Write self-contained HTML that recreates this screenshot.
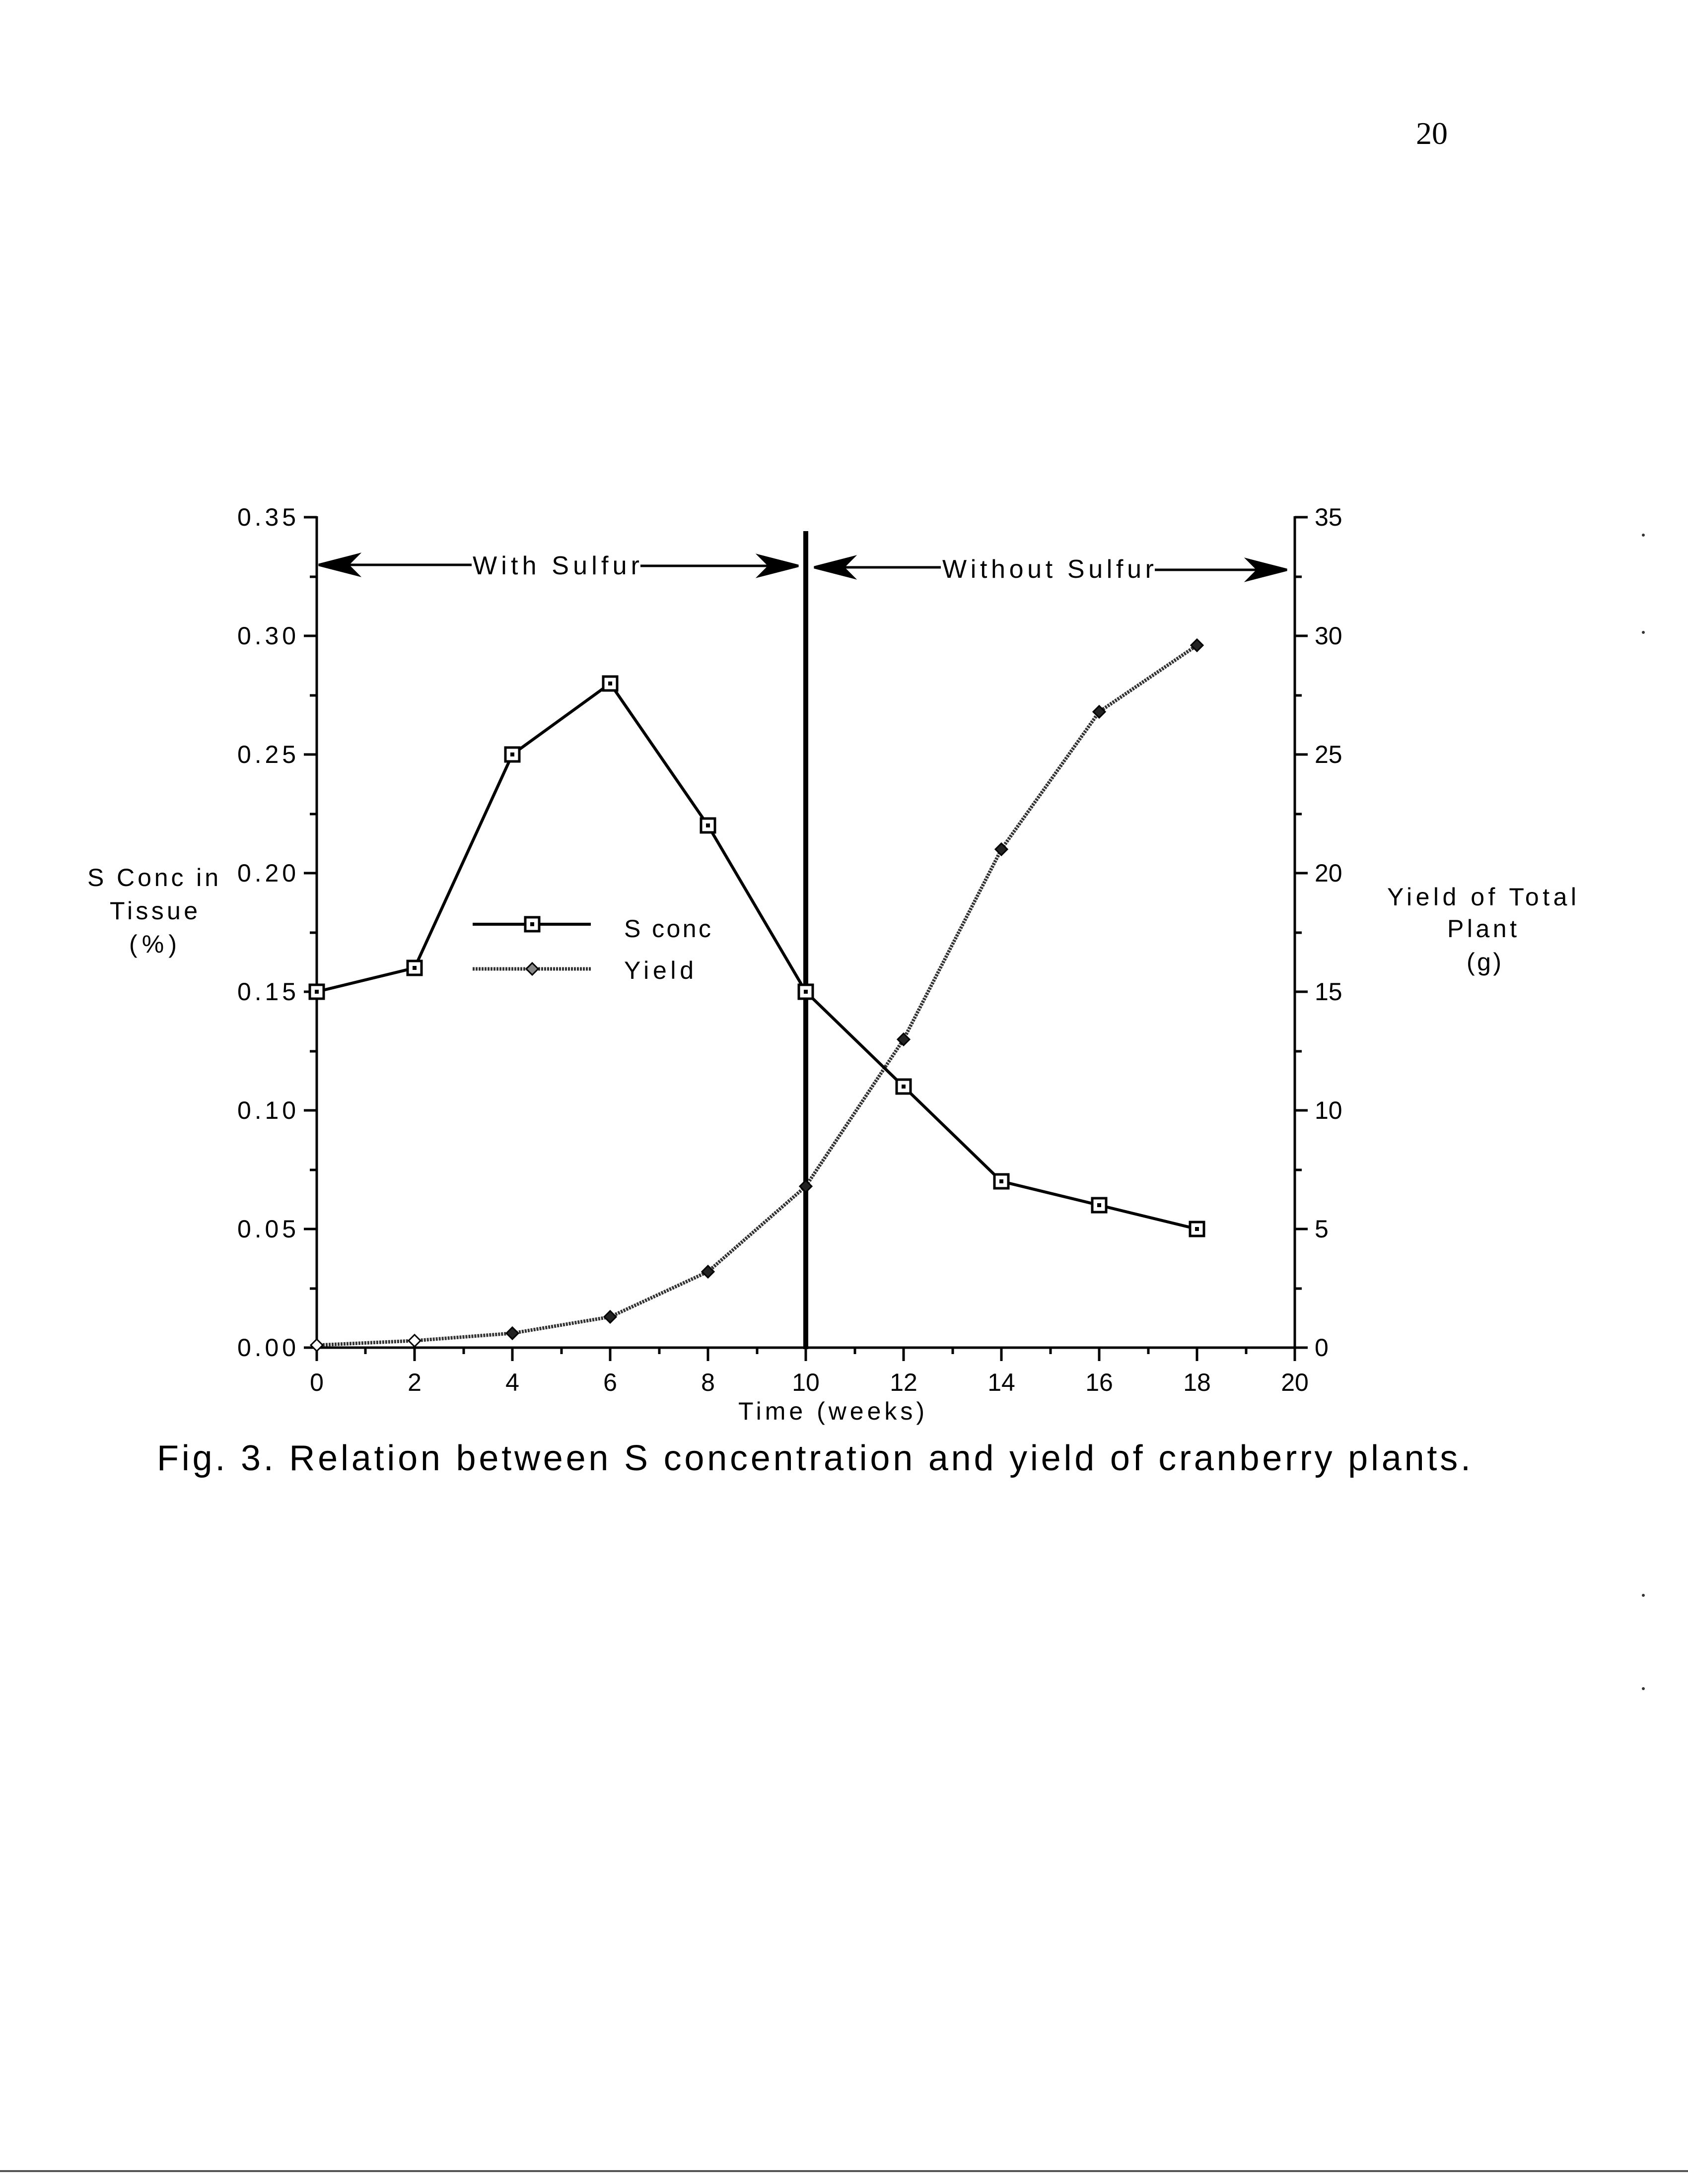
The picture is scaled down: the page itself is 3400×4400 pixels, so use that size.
<!DOCTYPE html>
<html><head><style>
html,body{margin:0;padding:0;background:#fff;}
svg{display:block;}
text{font-family:"Liberation Sans",sans-serif;fill:#000;}
</style></head><body>
<svg width="3400" height="4400" viewBox="0 0 3400 4400" xmlns="http://www.w3.org/2000/svg">
<rect width="3400" height="4400" fill="#fff"/>
<text x="2884" y="290" font-size="64" style="font-family:'Liberation Serif',serif" text-anchor="middle">20</text>

<g stroke="#000" stroke-width="5" fill="none">
<line x1="638" y1="1040" x2="638" y2="2718"/>
<line x1="2608" y1="1040" x2="2608" y2="2718"/>
<line x1="636" y1="2715" x2="2610" y2="2715"/>
<path d="M612 2715H638M612 2476H638M612 2237H638M612 1998H638M612 1759H638M612 1520H638M612 1281H638M612 1042H638"/>
<path d="M624 2596H638M624 2357H638M624 2118H638M624 1879H638M624 1640H638M624 1401H638M624 1162H638"/>
<path d="M2608 2715H2634M2608 2476H2634M2608 2237H2634M2608 1998H2634M2608 1759H2634M2608 1520H2634M2608 1281H2634M2608 1042H2634"/>
<path d="M2608 2596H2622M2608 2357H2622M2608 2118H2622M2608 1879H2622M2608 1640H2622M2608 1401H2622M2608 1162H2622"/>
<path d="M638 2715V2742M835 2715V2742M1032 2715V2742M1229 2715V2742M1426 2715V2742M1623 2715V2742M1820 2715V2742M2017 2715V2742M2214 2715V2742M2411 2715V2742M2608 2715V2742"/>
<path d="M736 2715V2728M934 2715V2728M1131 2715V2728M1328 2715V2728M1525 2715V2728M1722 2715V2728M1919 2715V2728M2116 2715V2728M2313 2715V2728M2510 2715V2728"/>
</g>

<g font-size="50" text-anchor="end">
<text x="596" y="2732" textLength="118">0.00</text><text x="596" y="2493" textLength="118">0.05</text><text x="596" y="2254" textLength="118">0.10</text>
<text x="596" y="2015" textLength="118">0.15</text><text x="596" y="1776" textLength="118">0.20</text><text x="596" y="1537" textLength="118">0.25</text>
<text x="596" y="1298" textLength="118">0.30</text><text x="596" y="1059" textLength="118">0.35</text>
</g>
<g font-size="50" text-anchor="start">
<text x="2648" y="2732">0</text><text x="2648" y="2493">5</text><text x="2648" y="2254">10</text>
<text x="2648" y="2015">15</text><text x="2648" y="1776">20</text><text x="2648" y="1537">25</text>
<text x="2648" y="1298">30</text><text x="2648" y="1059">35</text>
</g>
<g font-size="50" text-anchor="middle">
<text x="638" y="2802">0</text><text x="835" y="2802">2</text><text x="1032" y="2802">4</text>
<text x="1229" y="2802">6</text><text x="1426" y="2802">8</text><text x="1623" y="2802">10</text>
<text x="1820" y="2802">12</text><text x="2017" y="2802">14</text><text x="2214" y="2802">16</text>
<text x="2411" y="2802">18</text><text x="2608" y="2802">20</text>
</g>
<g font-size="50">
<text x="1487" y="2860" textLength="375">Time (weeks)</text>
<text x="176" y="1785" textLength="264">S Conc in</text>
<text x="221" y="1852" textLength="177">Tissue</text>
<text x="260" y="1919" textLength="96">(%)</text>
<text x="2794" y="1824" textLength="381">Yield of Total</text>
<text x="2915" y="1888" textLength="140">Plant</text>
<text x="2954" y="1955" textLength="70">(g)</text>
</g>
<text x="316" y="2962" font-size="72" textLength="2646">Fig. 3. Relation between S concentration and yield of cranberry plants.</text>

<line x1="1623" y1="1070" x2="1623" y2="2718" stroke="#000" stroke-width="10"/>

<g stroke="#000" stroke-width="5" fill="#000">
<line x1="660" y1="1138" x2="950" y2="1138"/>
<line x1="1290" y1="1140" x2="1590" y2="1140"/>
<path d="M642 1138L720 1118L700 1138L720 1158Z"/>
<path d="M1608 1140L1530 1120L1550 1140L1530 1160Z"/>
<line x1="1660" y1="1143" x2="1895" y2="1143"/>
<line x1="2326" y1="1148" x2="2570" y2="1148"/>
<path d="M1640 1143L1718 1123L1698 1143L1718 1163Z"/>
<path d="M2592 1148L2514 1128L2534 1148L2514 1168Z"/>
</g>
<text x="952" y="1157" font-size="52" textLength="336">With Sulfur</text>
<text x="1898" y="1164" font-size="52" textLength="426">Without Sulfur</text>

<polyline points="638,2710 835,2701 1032,2686 1229,2653 1426,2562 1623,2390 1820,2094 2017,1711 2214,1434 2411,1300" fill="none" stroke="#333" stroke-width="7" stroke-dasharray="4 2"/>
<g fill="#222" stroke="#000" stroke-width="3">
<path d="M638 2698l12 12-12 12-12-12z" fill="#fff"/>
<path d="M835 2689l12 12-12 12-12-12z" fill="#fff"/>
<path d="M1032 2674l12 12-12 12-12-12z"/>
<path d="M1229 2641l12 12-12 12-12-12z"/>
<path d="M1426 2550l12 12-12 12-12-12z"/>
<path d="M1623 2378l12 12-12 12-12-12z"/>
<path d="M1820 2082l12 12-12 12-12-12z"/>
<path d="M2017 1699l12 12-12 12-12-12z"/>
<path d="M2214 1422l12 12-12 12-12-12z"/>
<path d="M2411 1288l12 12-12 12-12-12z"/>
</g>

<polyline points="638,1998 835,1950 1032,1520 1229,1377 1426,1663 1623,1998 1820,2189 2017,2380 2214,2428 2411,2476" fill="none" stroke="#000" stroke-width="6"/>
<g fill="#fff" stroke="#000" stroke-width="5">
<rect x="624" y="1984" width="28" height="28"/><rect x="821" y="1936" width="28" height="28"/>
<rect x="1018" y="1506" width="28" height="28"/><rect x="1215" y="1363" width="28" height="28"/>
<rect x="1412" y="1649" width="28" height="28"/><rect x="1609" y="1984" width="28" height="28"/>
<rect x="1806" y="2175" width="28" height="28"/><rect x="2003" y="2366" width="28" height="28"/>
<rect x="2200" y="2414" width="28" height="28"/><rect x="2397" y="2462" width="28" height="28"/>
</g>
<g fill="#000">
<rect x="634" y="1994" width="8" height="8"/><rect x="831" y="1946" width="8" height="8"/>
<rect x="1028" y="1516" width="8" height="8"/><rect x="1225" y="1373" width="8" height="8"/>
<rect x="1422" y="1659" width="8" height="8"/><rect x="1619" y="1994" width="8" height="8"/>
<rect x="1816" y="2185" width="8" height="8"/><rect x="2013" y="2376" width="8" height="8"/>
<rect x="2210" y="2424" width="8" height="8"/><rect x="2407" y="2472" width="8" height="8"/>
</g>

<line x1="952" y1="1862" x2="1190" y2="1862" stroke="#000" stroke-width="6"/>
<rect x="1058" y="1848" width="28" height="28" fill="#fff" stroke="#000" stroke-width="5"/>
<rect x="1068" y="1858" width="8" height="8" fill="#000"/>
<text x="1257" y="1888" font-size="50" textLength="175">S conc</text>
<line x1="952" y1="1952" x2="1190" y2="1952" stroke="#333" stroke-width="7" stroke-dasharray="4 2"/>
<path d="M1072 1940l12 12-12 12-12-12z" fill="#888" stroke="#000" stroke-width="3"/>
<text x="1257" y="1972" font-size="50" textLength="140">Yield</text>

<g fill="#333">
<circle cx="3310" cy="1078" r="3"/><circle cx="3310" cy="1274" r="3"/>
<circle cx="3310" cy="3214" r="3"/><circle cx="3310" cy="3402" r="3"/>
</g>
<line x1="0" y1="4374" x2="3400" y2="4374" stroke="#555" stroke-width="4"/>
</svg>
</body></html>
